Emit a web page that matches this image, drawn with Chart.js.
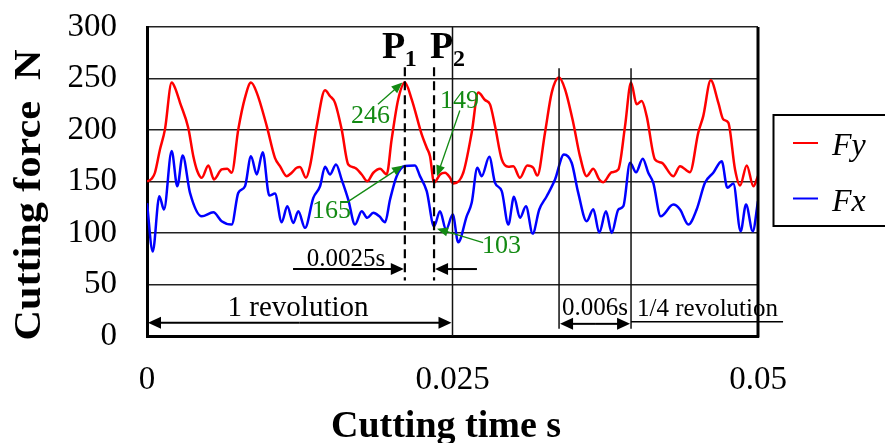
<!DOCTYPE html>
<html>
<head>
<meta charset="utf-8">
<title>Cutting force</title>
<script src="https://cdn.jsdelivr.net/npm/chart.js@4.4.1/dist/chart.umd.min.js"></script>
<style>
  html, body { margin: 0; padding: 0; background: #fff; }
</style>
</head>
<body>
<canvas id="force" width="885" height="443"></canvas>
<script>
// ====== data (time in s, force in N) ======
const fyTime = [0, 0.00038, 0.00065, 0.00106, 0.00147, 0.00202, 0.00229, 0.00270, 0.00338, 0.00379,
  0.00412, 0.00448, 0.00502, 0.00548, 0.00611, 0.00657, 0.00693, 0.00747, 0.00802, 0.00851,
  0.00898, 0.00980, 0.01047, 0.01088, 0.01143, 0.01184, 0.01225, 0.01252, 0.01301, 0.01334,
  0.01389, 0.01457, 0.01497, 0.01538, 0.01593, 0.01647, 0.01702, 0.01757, 0.01803, 0.01852,
  0.01907, 0.01961, 0.02002, 0.02056, 0.02110, 0.02166, 0.02248, 0.02289, 0.02316, 0.02349,
  0.02398, 0.02439, 0.02480, 0.02507, 0.02588, 0.02657, 0.02711, 0.02766, 0.02807, 0.02848,
  0.02903, 0.02957, 0.02998, 0.03052, 0.03112, 0.03161, 0.03194, 0.03257, 0.03312, 0.03372,
  0.03421, 0.03488, 0.03543, 0.03598, 0.03652, 0.03701, 0.03734, 0.03803, 0.03857, 0.03912,
  0.03961, 0.04007, 0.04048, 0.04089, 0.04157, 0.04212, 0.04307, 0.04362, 0.04443, 0.04511,
  0.04552, 0.04613, 0.04675, 0.04716, 0.04757, 0.04812, 0.04853, 0.04908, 0.04962, 0.05];
const fyForce = [150, 152.6, 158.5, 181, 200.6, 246, 241, 226.6, 202, 174.6,
  160, 153.6, 165.6, 152, 161.7, 162.4, 158.5, 200.6, 231.4, 246,
  236.3, 203.8, 173, 165, 155.2, 158.5, 163.3, 164, 153.6, 165,
  203.8, 238.5, 233, 226.6, 200.6, 166.5, 163.3, 156.8, 150.3, 158.5,
  162.4, 156.8, 190.9, 229.8, 246, 229.8, 195.7, 182.8, 174.6, 149,
  156.8, 158.5, 153.6, 148, 158.5, 197.4, 236.3, 229.1, 224.9, 203.8,
  171.4, 164.3, 164.9, 153.6, 165.6, 163.3, 155.8, 197.4, 236.3, 250.9,
  239.5, 207.1, 174.6, 155.2, 162.4, 151.9, 149.3, 159, 161.7, 203.8,
  246, 224.9, 228.1, 213.5, 171.4, 168.2, 155.2, 164.9, 159, 197.4,
  213.5, 248.2, 226.6, 210.3, 207.1, 161.7, 146.1, 165.6, 145.4, 155.2];

const fxTime = [0, 0.00047, 0.00101, 0.00139, 0.00202, 0.00248, 0.00292, 0.00352, 0.00448, 0.00543,
  0.00611, 0.00693, 0.00747, 0.00802, 0.00851, 0.00898, 0.00947, 0.01001, 0.01047, 0.01102,
  0.01148, 0.01197, 0.01238, 0.01293, 0.01361, 0.01416, 0.01457, 0.01497, 0.01547, 0.01593,
  0.01647, 0.01702, 0.01757, 0.01803, 0.01852, 0.01901, 0.01948, 0.01989, 0.02043, 0.02110,
  0.02193, 0.02234, 0.02289, 0.02349, 0.02398, 0.02447, 0.02502, 0.02547, 0.02616, 0.02657,
  0.02703, 0.02739, 0.02801, 0.02848, 0.02903, 0.02957, 0.03003, 0.03052, 0.03101, 0.03156,
  0.03210, 0.03271, 0.03339, 0.03412, 0.03475, 0.03529, 0.03598, 0.03652, 0.03701, 0.03756,
  0.03803, 0.03857, 0.03898, 0.03953, 0.04002, 0.04057, 0.04102, 0.04143, 0.04204, 0.04307,
  0.04362, 0.04430, 0.04498, 0.04566, 0.04634, 0.04703, 0.04749, 0.04798, 0.04858, 0.04902,
  0.04957, 0.05];
const fxForce = [129, 82, 135.7, 122.8, 179.5, 145.4, 175.3, 139, 116.2, 120.1,
  111.4, 108.2, 139, 145.4, 174.6, 156.8, 178.5, 136.4, 138.3, 110.4,
  126, 109.8, 121.1, 105, 134.1, 145.4, 164.3, 156.8, 166.5, 151.9,
  132.5, 108.2, 121.1, 114.7, 119.6, 116.2, 110.4, 132.5, 155.2, 165,
  165.6, 155.2, 140.6, 106.5, 121.1, 103, 117.9, 91, 116.2, 129.3,
  163.3, 155.2, 174, 148.7, 140.6, 108.2, 135.1, 114.7, 126, 99.4,
  122.8, 135.7, 151.9, 176.3, 168.2, 139, 111.4, 123, 100.4, 121.1,
  100.1, 122.8, 126, 168.2, 159, 172.1, 158.5, 148.7, 116.2, 127.6,
  122.8, 108.2, 122.8, 148.7, 158.5, 169.7, 143.9, 148.1, 101.7, 127.6,
  101.7, 130.8];

const yTicks = [0, 50, 100, 150, 200, 250, 300];
const xTicks = [0, 0.025, 0.05];

// marker times
const tP1 = 0.0211, tP2 = 0.02349;   // P1 / P2 dashed lines
const tRev = 0.025;                  // one revolution
const tQ1 = 0.03372, tQ2 = 0.03961;  // quarter revolution

// green callouts: text, label pos, arrow tail, arrow tip (data units)
const callouts = [
  { text: '246', lx: 0.01829, ly: 207, ax: 0.0189, ay: 225, bx: 0.0209, by: 246 },
  { text: '149', lx: 0.02557, ly: 221, ax: 0.0256, ay: 219, bx: 0.02373, by: 155 },
  { text: '165', lx: 0.0151, ly: 115, ax: 0.01645, ay: 130.5, bx: 0.02095, by: 165.5 },
  { text: '103', lx: 0.02901, ly: 81, ax: 0.0275, ay: 90.6, bx: 0.02373, by: 104.2 }
];

const SERIF = "'Times New Roman', 'Liberation Serif', serif";
const toPts = (ts, vs) => ts.map((t, i) => ({ x: t, y: vs[i] }));

function arrow(ctx, x1, y1, x2, y2, len, half) {
    const a = Math.atan2(y2 - y1, x2 - x1);
    const c = Math.cos(a), s = Math.sin(a);
    ctx.beginPath();
    ctx.moveTo(x1, y1);
    ctx.lineTo(x2 - c * len * 0.8, y2 - s * len * 0.8);
    ctx.stroke();
    ctx.beginPath();
    ctx.moveTo(x2, y2);
    ctx.lineTo(x2 - len * c + half * s, y2 - len * s - half * c);
    ctx.lineTo(x2 - len * c - half * s, y2 - len * s + half * c);
    ctx.closePath();
    ctx.fill();
}

const decorations = {
    id: 'decorations',
    afterDraw(chart) {
        const { ctx, chartArea: ca } = chart;
        const xs = chart.scales.x, ys = chart.scales.y;
        const X = t => xs.getPixelForValue(t), Y = v => ys.getPixelForValue(v);
        ctx.save();

        // right frame edge
        ctx.strokeStyle = '#000';
        ctx.lineWidth = 3;
        ctx.beginPath(); ctx.moveTo(ca.right, ca.top); ctx.lineTo(ca.right, ca.bottom + 1.5); ctx.stroke();

        // thin vertical markers
        ctx.lineWidth = 1.5;
        ctx.strokeStyle = '#111';
        ctx.beginPath();
        ctx.moveTo(X(tRev), Y(300)); ctx.lineTo(X(tRev), Y(0));
        [tQ1, tQ2].forEach(t => { ctx.moveTo(X(t), Y(260)); ctx.lineTo(X(t), Y(7)); });
        ctx.stroke();

        // dashed P1 / P2
        ctx.lineWidth = 2.2;
        ctx.strokeStyle = '#000';
        ctx.setLineDash([9, 5]);
        ctx.beginPath();
        [tP1, tP2].forEach(t => { ctx.moveTo(X(t), Y(261)); ctx.lineTo(X(t), Y(54)); });
        ctx.stroke();
        ctx.setLineDash([]);

        // P labels
        ctx.fillStyle = '#000';
        ctx.textBaseline = 'alphabetic';
        ctx.textAlign = 'left';
        ctx.font = 'bold 38px ' + SERIF;
        ctx.fillText('P', X(0.01923), Y(269.5));
        ctx.fillText('P', X(0.02316), Y(269.5));
        ctx.font = 'bold 24px ' + SERIF;
        ctx.fillText('1', X(tP1), Y(261.7));
        ctx.fillText('2', X(0.02504), Y(261.7));

        // 0.0025s spacing arrows
        ctx.lineWidth = 2;
        arrow(ctx, X(0.01195), Y(65), X(tP1) - 1, Y(65), 13, 6);
        arrow(ctx, X(0.027), Y(65), X(tP2) + 1, Y(65), 13, 6);
        ctx.font = '25px ' + SERIF;
        ctx.textAlign = 'center';
        ctx.fillText('0.0025s', X(0.01628), Y(68.2));

        // 1 revolution
        const yr = Y(12.8);
        arrow(ctx, (X(0) + X(tRev)) / 2, yr, X(0) + 1, yr, 13, 6);
        arrow(ctx, (X(0) + X(tRev)) / 2, yr, X(tRev) - 1, yr, 13, 6);
        ctx.font = '29px ' + SERIF;
        ctx.fillText('1 revolution', X(0.01236), Y(19.6));

        // 0.006s / 1/4 revolution
        const yq = Y(11.8);
        arrow(ctx, (X(tQ1) + X(tQ2)) / 2, yq, X(tQ1) + 1, yq, 13, 6);
        arrow(ctx, (X(tQ1) + X(tQ2)) / 2, yq, X(tQ2) - 1, yq, 13, 6);
        ctx.lineWidth = 1.5;
        ctx.beginPath(); ctx.moveTo(X(tQ2), Y(13.8)); ctx.lineTo(X(0.05205), Y(13.8)); ctx.stroke();
        ctx.font = '25px ' + SERIF;
        ctx.textAlign = 'left';
        ctx.fillText('0.006s', X(tQ1) + 3, Y(20.6));
        ctx.fillText('1/4 revolution', X(tQ2) + 6, Y(19.6));

        // green callouts
        ctx.strokeStyle = '#138a13';
        ctx.fillStyle = '#138a13';
        ctx.lineWidth = 1.3;
        ctx.font = '26px ' + SERIF;
        ctx.textAlign = 'center';
        callouts.forEach(c => {
            arrow(ctx, X(c.ax), Y(c.ay), X(c.bx), Y(c.by), 11, 4.5);
            ctx.fillText(c.text, X(c.lx), Y(c.ly));
        });

        // axis titles
        ctx.fillStyle = '#000';
        ctx.font = 'bold 38px ' + SERIF;
        ctx.textAlign = 'center';
        ctx.fillText('Cutting time s', 446, 437);
        ctx.save();
        ctx.translate(40, 195);
        ctx.rotate(-Math.PI / 2);
        ctx.scale(1.11, 1);
        ctx.fillText('Cutting force  N', 0, 0);
        ctx.restore();

        // legend box
        ctx.strokeStyle = '#000';
        ctx.lineWidth = 2;
        ctx.strokeRect(773.5, 115, 140, 111);
        ctx.font = 'italic 32px ' + SERIF;
        ctx.textAlign = 'left';
        chart.data.datasets.forEach((ds, i) => {
            const yy = 143 + i * 55.5;
            ctx.strokeStyle = ds.borderColor;
            ctx.lineWidth = 2;
            ctx.beginPath(); ctx.moveTo(793, yy); ctx.lineTo(818, yy); ctx.stroke();
            ctx.fillStyle = '#000';
            ctx.fillText(ds.label, 832, yy + 12);
        });

        ctx.restore();
    }
};

new Chart(document.getElementById('force'), {
    type: 'line',
    data: {
        datasets: [
            { label: 'Fy', data: toPts(fyTime, fyForce), borderColor: '#ff0000', borderWidth: 2.5 },
            { label: 'Fx', data: toPts(fxTime, fxForce), borderColor: '#0000ff', borderWidth: 2.5 }
        ]
    },
    options: {
        responsive: false,
        animation: false,
        cubicInterpolationMode: 'monotone',
        pointRadius: 0,
        layout: { padding: { top: 27, right: 127, left: 0, bottom: 0 } },
        plugins: { legend: { display: false }, tooltip: { enabled: false } },
        scales: {
            x: {
                type: 'linear',
                min: xTicks[0],
                max: xTicks[xTicks.length - 1],
                afterFit: s => { s.height = 107; s.paddingLeft = 0; s.paddingRight = 0; },
                afterBuildTicks: s => { s.ticks = xTicks.map(v => ({ value: v })); },
                grid: { display: false },
                border: { color: '#000', width: 3 },
                ticks: {
                    color: '#000',
                    padding: 17,
                    maxRotation: 0,
                    font: { family: SERIF, size: 33 },
                    callback: v => String(+Number(v).toFixed(4))
                }
            },
            y: {
                min: yTicks[0],
                max: yTicks[yTicks.length - 1],
                afterFit: s => { s.width = 147; s.paddingTop = 0; s.paddingBottom = 0; },
                afterBuildTicks: s => { s.ticks = yTicks.map(v => ({ value: v })); },
                grid: { color: '#222', lineWidth: 1.5, drawTicks: false },
                border: { color: '#000', width: 3 },
                ticks: {
                    color: '#000',
                    padding: 30,
                    font: { family: SERIF, size: 33 }
                }
            }
        }
    },
    plugins: [decorations]
});
</script>
</body>
</html>
